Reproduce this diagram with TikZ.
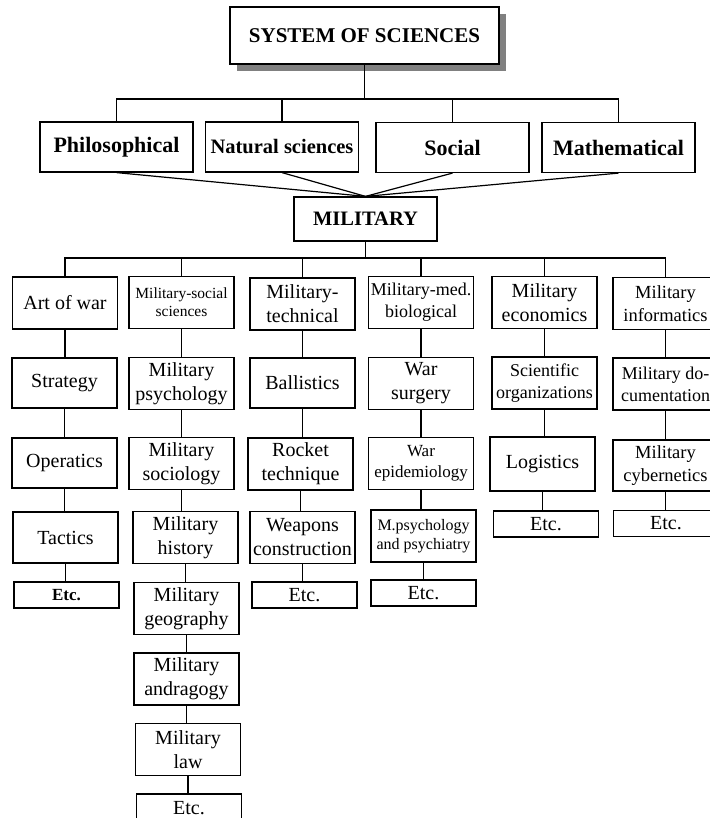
\documentclass[tikz,border=0pt]{standalone}
\usepackage{fontspec}
\setmainfont{Liberation Serif}
\usetikzlibrary{shadows}

% font sizes used in the chart
\newcommand\regtext{\fontsize{20}{24}\selectfont}
\newcommand\edgetext{\fontsize{18.5}{23}\selectfont}
\newcommand\midtext{\fontsize{18}{22}\selectfont}
\newcommand\smalltext{\fontsize{16}{19}\selectfont}
\newcommand\headtext{\fontsize{22}{24}\selectfont\bfseries}

\begin{document}
\begin{tikzpicture}[x=1pt,y=-1pt,
  box/.style={draw, line width=1.2pt, inner sep=0pt, align=center,
              minimum width=105pt, minimum height=52pt, font=\regtext},
  etcbox/.style={box, minimum height=26pt},
  headbox/.style={box, font=\headtext, minimum width=153pt, minimum height=50pt},
  link/.style={line width=1.2pt}]
\useasboundingbox (0,0) rectangle (709,818);
\fill[white] (0,0) rectangle (709,818);

% ---- top levels
\node[box, font=\fontsize{21}{24}\selectfont\bfseries, minimum width=269pt,
      minimum height=57pt, fill=white,
      general shadow={fill=black!50, shadow xshift=7pt, shadow yshift=-7pt}]
      (sys) at (364.5,35.5) {SYSTEM OF SCIENCES};

\node[headbox] (phil) at (116.5,147) {Philosophical};
\node[headbox, font=\fontsize{20.5}{24}\selectfont\bfseries] (nat) at (282,147) {Natural sciences};
\node[headbox] (socl) at (452.5,147.5) {Social};
\node[headbox] (math) at (618.5,147.5) {Mathematical};

\node[box, font=\fontsize{20.5}{24}\selectfont\bfseries, minimum width=143pt, minimum height=44pt]
      (mil) at (365.5,219) {MILITARY};

% ---- branch columns, first row
\node[box] (art)  at (65,303)      {Art of war};
\node[box, font=\fontsize{15.5}{18}\selectfont] (msoc) at (181.5,302.5) {Military-social\\sciences};
\node[box] (tech) at (302.5,304)   {Military-\\technical};
\node[box, font=\midtext] (med) at (421,302.5) {Military-med.\\biological};
\node[box] (econ) at (544.5,302.5) {Military\\economics};
\node[box, font=\edgetext] (info) at (665.5,303.5) {Military\\informatics};

% second row
\node[box, minimum height=50pt] (strat) at (64.5,383) {Strategy};
\node[box] (psy)  at (181.5,383.5) {Military\\psychology};
\node[box, minimum height=50pt] (ball) at (302.5,383) {Ballistics};
\node[box] (surg) at (421,383.5)   {War\\surgery};
\node[box, font=\midtext] (sci) at (544.5,383) {Scientific\\organizations};
\node[box, font=\midtext] (doc) at (665.5,384) {Military do-\\cumentation};

% third row
\node[box, minimum height=50pt] (oper) at (64.5,463) {Operatics};
\node[box] (socio) at (181.5,463.5) {Military\\sociology};
\node[box] (rock)  at (300.5,464)   {Rocket\\technique};
\node[box, font=\fontsize{17}{21}\selectfont] (epid) at (421,463.5) {War\\epidemiology};
\node[box, minimum height=54pt] (logi) at (542.5,464) {Logistics};
\node[box, minimum height=51pt, font=\edgetext] (cyb) at (665.5,465.5) {Military\\cybernetics};

% fourth row
\node[box, minimum height=51pt] (tact) at (65.5,537.5) {Tactics};
\node[box] (hist) at (185.5,537.5) {Military\\history};
\node[box] (weap) at (302.5,537.5) {Weapons\\construction};
\node[box, font=\smalltext] (mpsy) at (423.5,536) {M.psychology\\and psychiatry};
\node[etcbox] (etcE) at (546,524)   {Etc.};
\node[etcbox] (etcI) at (666,523.5) {Etc.};

% remaining boxes
\node[etcbox, font=\fontsize{17}{20}\selectfont\bfseries] (etcA) at (66.5,595) {Etc.};
\node[box] (geo)  at (186.5,608.5) {Military\\geography};
\node[etcbox] (etcT) at (304.5,595) {Etc.};
\node[etcbox] (etcM) at (423.5,593) {Etc.};
\node[box] (andr) at (186.5,679)   {Military\\andragogy};
\node[box] (law)  at (188,749.5)   {Military\\law};
\node[etcbox, minimum height=28pt] (etcS) at (189,808) {Etc.};

% ---- connectors
\coordinate (bar1) at (0,99);
\coordinate (bar3) at (0,258);

\draw[link] (sys.south) -- (sys.south |- bar1);
\draw[link] (phil.north) -- (phil.north |- bar1) -- (math.north |- bar1) -- (math.north);
\draw[link] (nat.north) -- (nat.north |- bar1);
\draw[link] (socl.north) -- (socl.north |- bar1);

\foreach \s in {phil,nat,socl,math}
  \draw[link] (\s.south) -- (mil.north);

\draw[link] (mil.south) -- (mil.south |- bar3);
\draw[link] (art.north) -- (art.north |- bar3) -- (info.north |- bar3) -- (info.north);
\foreach \s in {msoc,tech,med,econ}
  \draw[link] (\s.north) -- (\s.north |- bar3);

\foreach \a/\b in {art/strat, strat/oper, oper/tact, tact/etcA,
                   msoc/psy, psy/socio, socio/hist, hist/geo, geo/andr, andr/law, law/etcS,
                   tech/ball, ball/rock, rock/weap, weap/etcT,
                   med/surg, surg/epid, epid/mpsy, mpsy/etcM,
                   econ/sci, sci/logi, logi/etcE,
                   info/doc, doc/cyb, cyb/etcI}
  \draw[link] (\a.south) -- (\a.south |- \b.north);
\end{tikzpicture}
\end{document}
